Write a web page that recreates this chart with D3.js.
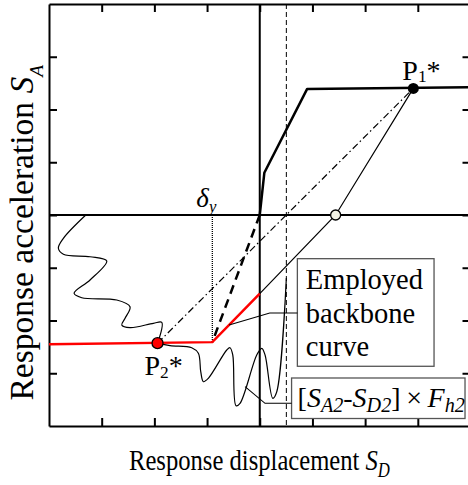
<!DOCTYPE html>
<html>
<head>
<meta charset="utf-8">
<script src="https://cdn.jsdelivr.net/npm/d3@7"></script>
<style>
  html, body { margin: 0; padding: 0; background: #fff; }
  svg { display: block; }
  text { font-family: "Liberation Serif", "Times New Roman", serif; fill: #000; }
</style>
</head>
<body>
<div id="chart"></div>
<script>

//******************************************************************************
//**  Data (response displacement S_D, response acceleration S_A)
//******************************************************************************
var xTicks = [-3, -2, -1, 0, 1, 2, 3];
var yTicks = [-3, -2, -1, 0, 1, 2, 3];

var backbone   = [[0, 0], [0.087, 0.80], [0.90, 2.39], [4, 2.42]];
var unloading  = [[2.915, 2.40], [1.44, 0], [0, -1.49]];
var employed   = [[-4, -2.45], [-0.90, -2.41], [0, -1.49]];
var initialBranch = [[0, 0], [-0.90, -2.41]];
var p1 = [2.915, 2.40];
var p2 = [-1.94, -2.43];
var zeroCross = [1.44, 0];
var deltaY = -0.90;
var dashedX = 0.505;

var waveUpper = [
    [-3.302, 0], [-3.727, -0.442], [-3.822, -0.631], [-3.727, -0.745],
    [-3.221, -0.791], [-2.904, -0.872], [-3.221, -1.232], [-3.524, -1.484],
    [-3.378, -1.568], [-2.714, -1.611], [-2.462, -1.738], [-2.556, -1.958],
    [-2.619, -2.085], [-2.462, -2.136], [-2.019, -2.053], [-1.860, -2.034],
    [-1.94, -2.43]
];

var waveLower = [
    [-1.94, -2.43], [-1.702, -2.478], [-1.291, -2.516], [-1.165, -2.622],
    [-1.120, -2.971], [-1.070, -3.160], [-0.976, -3.096], [-0.626, -2.559],
    [-0.564, -2.516], [-0.512, -2.654], [-0.450, -3.615], [-0.374, -3.570],
    [-0.057, -2.654], [0.038, -2.527], [0.101, -2.654], [0.247, -3.475],
    [0.323, -3.350], [0.505, -1.194]
];


//******************************************************************************
//**  Chart
//******************************************************************************
var width = 468, height = 485;

var svg = d3.select("#chart").append("svg")
    .attr("width", width)
    .attr("height", height);

var x = d3.scaleLinear().domain([-4, 4]).range([49, 470.5]);
var y = d3.scaleLinear().domain([-4, 4]).range([426, 4]);

var line = d3.line().x(function(d){ return x(d[0]); }).y(function(d){ return y(d[1]); });
var smooth = d3.line()
    .curve(d3.curveCatmullRom.alpha(0.5))
    .x(function(d){ return x(d[0]); })
    .y(function(d){ return y(d[1]); });


  //**************************************************************************
  //** Frame and ticks (inward)
  //**************************************************************************
    var axes = [
        { ax: d3.axisBottom(x).tickValues(xTicks), at: "translate(0," + y(-4) + ")" },
        { ax: d3.axisTop(x).tickValues(xTicks),    at: "translate(0," + y(4) + ")" },
        { ax: d3.axisLeft(y).tickValues(yTicks),   at: "translate(" + x(-4) + ",0)" },
        { ax: d3.axisRight(y).tickValues(yTicks),  at: "translate(" + x(4) + ",0)" }
    ];
    axes.forEach(function(a){
        var g = svg.append("g")
            .attr("transform", a.at)
            .call(a.ax.tickSizeInner(-8).tickSizeOuter(0).tickFormat(""));
        g.select(".domain").attr("stroke", "#000").attr("stroke-width", 2);
        g.selectAll(".tick line").attr("stroke", "#000").attr("stroke-width", 2);
    });


  //**************************************************************************
  //** Zero lines
  //**************************************************************************
    svg.append("line")
        .attr("x1", x(-4)).attr("x2", x(4))
        .attr("y1", y(0)).attr("y2", y(0))
        .attr("stroke", "#000").attr("stroke-width", 2);

    svg.append("line")
        .attr("x1", x(0)).attr("x2", x(0))
        .attr("y1", y(4)).attr("y2", y(-4))
        .attr("stroke", "#000").attr("stroke-width", 2);

    svg.append("line")
        .attr("x1", x(dashedX)).attr("x2", x(dashedX))
        .attr("y1", y(4)).attr("y2", y(-4))
        .attr("stroke", "#000").attr("stroke-width", 1)
        .attr("stroke-dasharray", "5,3");


  //**************************************************************************
  //** Curves
  //**************************************************************************
    svg.append("path").attr("d", smooth(waveUpper))
        .attr("fill", "none").attr("stroke", "#000").attr("stroke-width", 1.2);

    svg.append("path").attr("d", smooth(waveLower))
        .attr("fill", "none").attr("stroke", "#000").attr("stroke-width", 1.2);

    svg.append("line")
        .attr("x1", x(deltaY)).attr("x2", x(deltaY))
        .attr("y1", y(0)).attr("y2", y(employed[1][1]))
        .attr("stroke", "#000").attr("stroke-width", 1.3)
        .attr("stroke-dasharray", "1,1");

    svg.append("path").attr("d", line([p2, p1]))
        .attr("fill", "none").attr("stroke", "#000").attr("stroke-width", 1.2)
        .attr("stroke-dasharray", "7,3,1.5,3");

    svg.append("path").attr("d", line(initialBranch))
        .attr("fill", "none").attr("stroke", "#000").attr("stroke-width", 2.5)
        .attr("stroke-dasharray", "9,6");

    svg.append("path").attr("d", line(unloading))
        .attr("fill", "none").attr("stroke", "#000").attr("stroke-width", 1.2);

    svg.append("path").attr("d", line(backbone))
        .attr("fill", "none").attr("stroke", "#000").attr("stroke-width", 2.5)
        .attr("stroke-linejoin", "round");

    svg.append("path").attr("d", line(employed))
        .attr("fill", "none").attr("stroke", "#ff0000").attr("stroke-width", 2.5);


  //**************************************************************************
  //** Points
  //**************************************************************************
    svg.append("circle").attr("cx", x(p1[0])).attr("cy", y(p1[1])).attr("r", 5.5)
        .attr("fill", "#000");
    svg.append("circle").attr("cx", x(p2[0])).attr("cy", y(p2[1])).attr("r", 5.5)
        .attr("fill", "#ff0000").attr("stroke", "#000").attr("stroke-width", 1.3);
    svg.append("circle").attr("cx", x(zeroCross[0])).attr("cy", y(zeroCross[1])).attr("r", 5)
        .attr("fill", "#f2f2e4").attr("stroke", "#000").attr("stroke-width", 1.3);


  //**************************************************************************
  //** addText: text made of parts {t, it, sub}
  //**************************************************************************
    var addText = function(parent, px, py, size, parts, subShift, subScale){
        var t = parent.append("text").attr("x", px).attr("y", py)
            .attr("font-size", size);
        var prev = 0;
        parts.forEach(function(p){
            var shift = p.sub ? subShift : 0;
            t.append("tspan")
                .attr("dy", shift - prev)
                .attr("font-style", p.it ? "italic" : "normal")
                .attr("font-size", p.sub ? size*subScale : size)
                .text(p.t);
            prev = shift;
        });
        return t;
    };


  //**************************************************************************
  //** Labels
  //**************************************************************************
    addText(svg, x(p1[0]) - 11, y(p1[1]) - 8, 28,
        [{t:"P"}, {t:"1", sub:true}, {t:"*"}], 2, 0.62);

    addText(svg, x(p2[0]) - 13, y(p2[1]) + 32, 28,
        [{t:"P"}, {t:"2", sub:true}, {t:"*"}], 2.5, 0.62);

    addText(svg, x(deltaY) - 16, y(0) - 8, 27,
        [{t:"\u03b4", it:true}, {t:"y", it:true, sub:true}], 5, 0.62);


  //Employed backbone curve box
    var b1 = {x0: 0.714, x1: 3.308, y0: -0.828, y1: -2.868};
    svg.append("rect")
        .attr("x", x(b1.x0)).attr("y", y(b1.y0))
        .attr("width", x(b1.x1) - x(b1.x0)).attr("height", y(b1.y1) - y(b1.y0))
        .attr("fill", "#fff").attr("stroke", "#555").attr("stroke-width", 1.3);
    ["Employed", "backbone", "curve"].forEach(function(s, i){
        svg.append("text").attr("x", x(b1.x0) + 8.5).attr("y", y(b1.y0) + 30.5 + i*33.5)
            .attr("font-size", 28.5).text(s);
    });
    svg.append("path").attr("d", line([[0.714, -1.858], [0.19, -1.858], [-0.583, -2.085]]))
        .attr("fill", "none").attr("stroke", "#000").attr("stroke-width", 1.1);


  //[S_A2-S_D2] x F_h2 box
    var b2 = {x0: 0.604, x1: 3.896, y0: -3.09, y1: -3.858};
    svg.append("rect")
        .attr("x", x(b2.x0)).attr("y", y(b2.y0))
        .attr("width", x(b2.x1) - x(b2.x0)).attr("height", y(b2.y1) - y(b2.y0))
        .attr("fill", "#fff").attr("stroke", "#555").attr("stroke-width", 1.3);
    addText(svg, x(b2.x0) + 6, y(b2.y0) + 29, 28, [
        {t:"["}, {t:"S", it:true}, {t:"A2", it:true, sub:true}, {t:"-"},
        {t:"S", it:true}, {t:"D2", it:true, sub:true}, {t:"]\u2009\u00d7\u2009"},
        {t:"F", it:true}, {t:"h2", it:true, sub:true}
    ], 5, 0.72);
    svg.append("path").attr("d", line([[0.604, -3.57], [0.10, -3.57], [-0.279, -3.255]]))
        .attr("fill", "none").attr("stroke", "#000").attr("stroke-width", 1.1);


  //Axis titles
    var xt = svg.append("g").attr("transform", "translate(129,470) scale(0.835,1)");
    addText(xt, 0, 0, 29.5, [
        {t:"Response displacement "}, {t:"S", it:true}, {t:"D", it:true, sub:true}
    ], 6.5, 0.68);

    var yt = svg.append("g").attr("transform", "translate(33.3,400.5) rotate(-90)");
    addText(yt, 0, 0, 33.5, [
        {t:"Response acceleration "}, {t:"S", it:true}, {t:"A", it:true, sub:true}
    ], 10, 0.58);

</script>
</body>
</html>
